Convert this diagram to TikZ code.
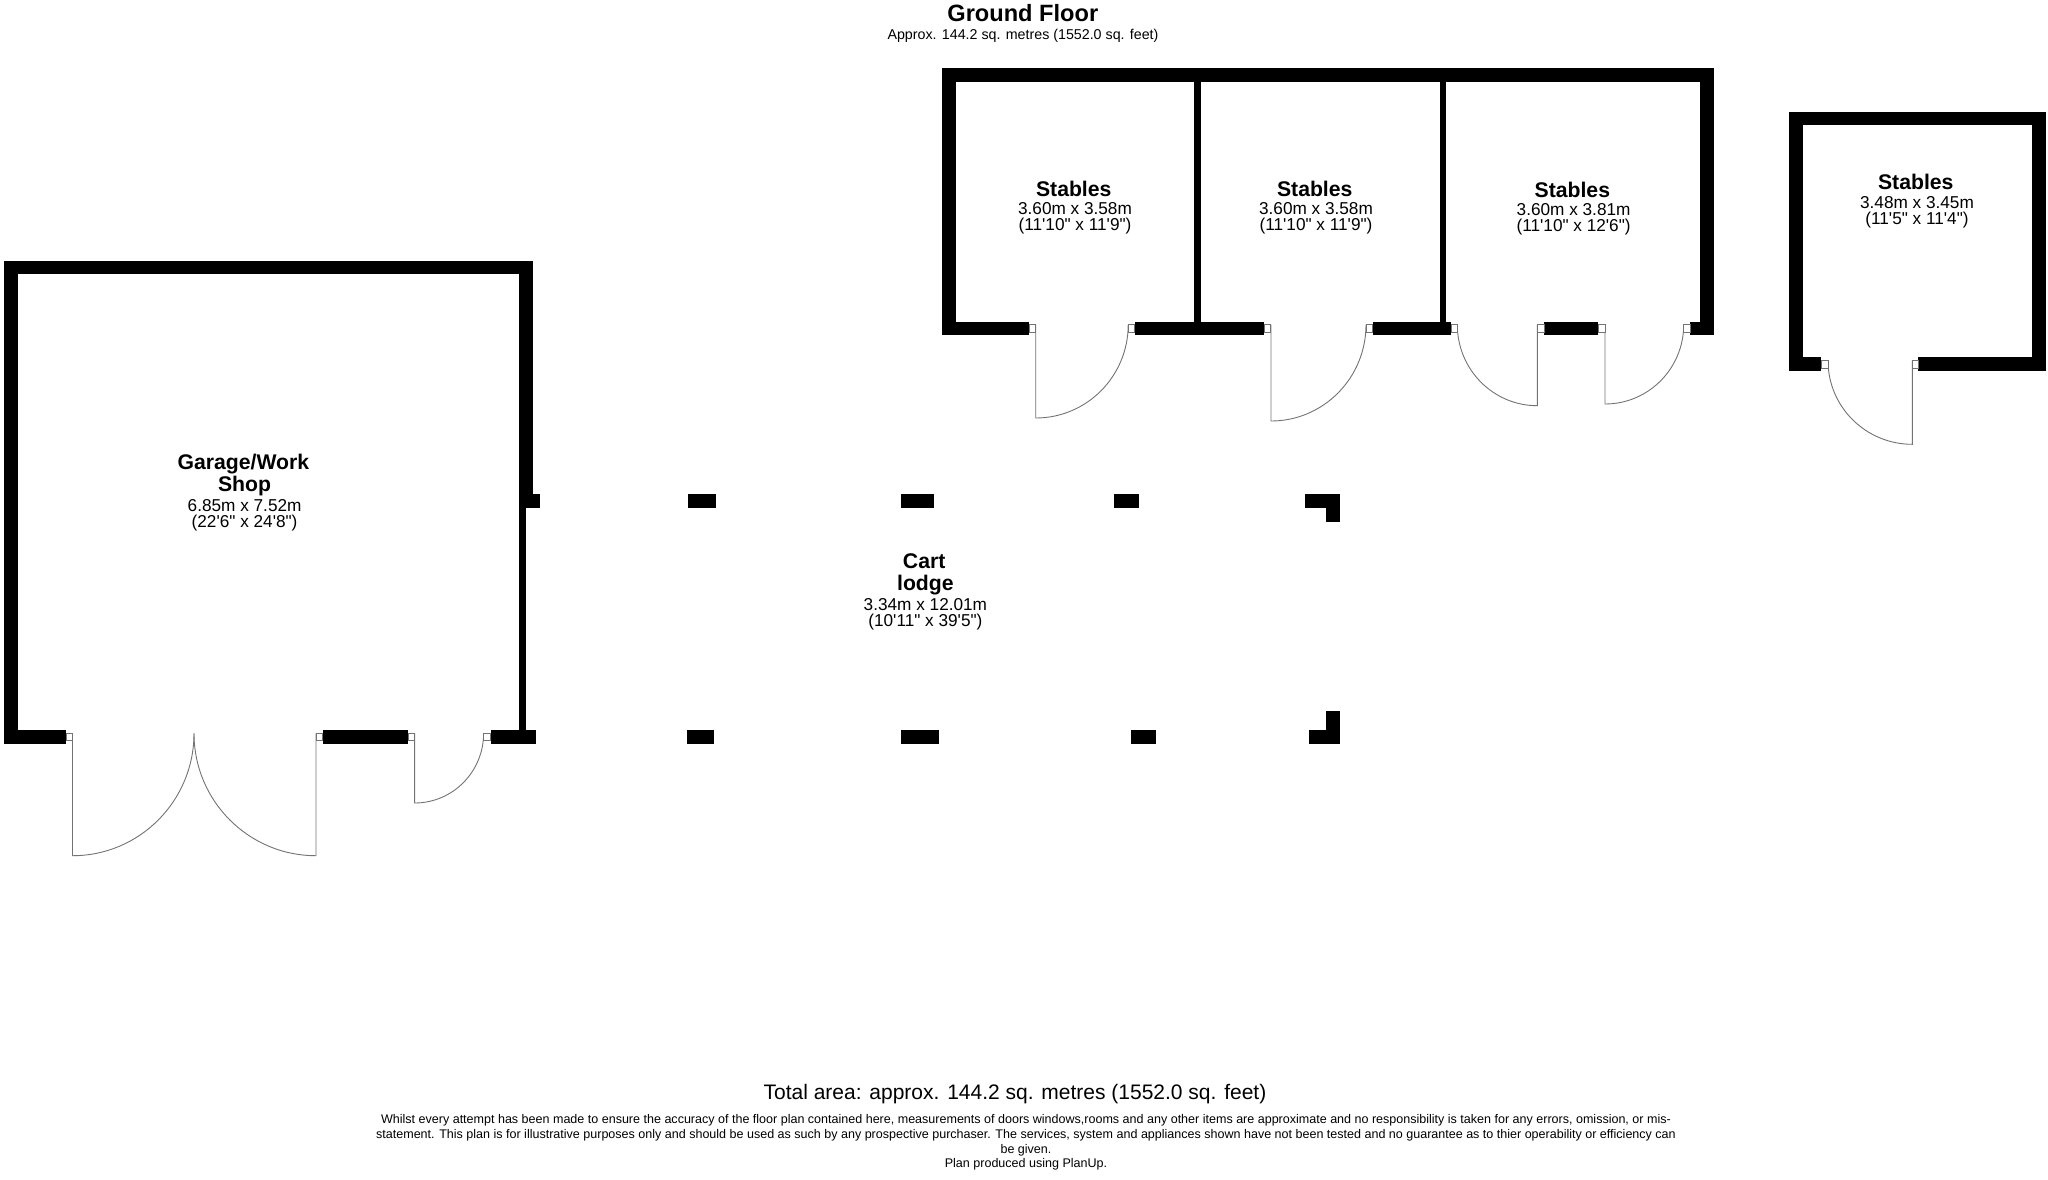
\documentclass[tikz,border=0pt]{standalone}
\usepackage{fontspec}
\newfontfamily\planfont{Liberation Sans}
\newcommand{\roomname}[1]{{\fontsize{21.2}{20}\selectfont\bfseries #1\hspace*{2.5pt}}}

\begin{document}
\begin{tikzpicture}[x=1pt, y=-1pt,
        wall/.style={fill=black},
        leaf/.style={draw=black!55, line width=0.9pt},
        jamb/.style={draw=black!55, line width=0.9pt, fill=white},
        roomlabel/.style={inner sep=0pt, align=center, font=\planfont\fontsize{17.2}{16}\selectfont},
        heading/.style={inner sep=0pt, font=\planfont\fontsize{23.6}{24}\selectfont\bfseries},
        smallprint/.style={inner sep=0pt, align=center, font=\planfont\fontsize{12.53}{14.6}\selectfont}
    ]
    \useasboundingbox (0,0) rectangle (2048,1179);
    \def\jambw{6.7}
    \def\jambh{7.4}

    % WALLS
    \foreach \xa/\ya/\xb/\yb in {
        4.3/260.7/532.5/274.3, 4.3/260.7/17.9/744, 4.3/730/66/744, 322.5/730/408/744,
        490.5/730/536.4/744, 518.6/260.7/532.5/494.3, 518.6/494.3/540/508, 518.6/508/526.4/730,
        942.2/68.3/1714/82.3, 942.2/68.3/955.5/335.3, 1700/68.3/1714/335.3,
        1194.3/68.3/1201/335.3, 1439.7/68.3/1446.3/335.3,
        942.2/321.7/1029/335.3, 1134.6/321.7/1264/335.3, 1372.9/321.7/1451/335.3,
        1544/321.7/1598.3/335.3, 1690/321.7/1714/335.3,
        1789/111.7/2045.7/125.3, 1789/111.7/1803/370.7, 2031.7/111.7/2045.7/370.7,
        1789/356.7/1821.3/370.7, 1918.3/356.7/2045.7/370.7} {
        \fill[wall] (\xa,\ya) rectangle (\xb,\yb);
    }

    % POSTS
    \foreach \xa/\xb in {688.2/715.6, 901/934, 1114.4/1138.5, 1305.3/1340.4} {
        \fill[wall] (\xa,494.3) rectangle (\xb,508.3);
    }
    \foreach \xa/\xb in {686.5/714, 901/938.8, 1131.4/1155.5, 1308.5/1340.4} {
        \fill[wall] (\xa,730) rectangle (\xb,744);
    }
    \fill[wall] (1325.6,494.3) rectangle (1340.4,522.3);
    \fill[wall] (1325.6,711) rectangle (1340.4,744);

    % DOORS
    \foreach \x/\ytop/\ybot/\xend in {
        72.5/733.3/855.7/194, 316/733.3/855.7/194, 414.6/733.3/803/483.6,
        1035.7/324.7/418/1128.2, 1271/324.7/421/1366,
        1537.3/324.7/405.7/1457.3, 1605/324.7/404/1683.7,
        1912.3/360.7/444.3/1828} {
        \draw[leaf] (\x,\ytop) -- (\x,\ybot)
            arc[start angle=90, end angle=0, x radius={\xend-\x}, y radius={\ybot-\ytop}];
    }
    \foreach \x/\y in {
        66/733.3, 316/733.3, 408/733.3, 483.6/733.3,
        1029/324.7, 1128.2/324.7, 1264/324.7, 1366/324.7,
        1451/324.7, 1537.3/324.7, 1598.3/324.7, 1683.7/324.7,
        1821.3/360.7, 1912/360.7} {
        \draw[jamb] (\x,\y) rectangle ++(\jambw,\jambh);
    }

    % LABELS
    \node[roomlabel] (garage) at (244.6,492.7) {\roomname{Garage/Work}\\[1.5pt]\roomname{Shop}\\[2.4pt]6.85m x 7.52m\\(22'6" x 24'8")};
    \node[roomlabel] (cart) at (925.4,592) {\roomname{Cart}\\[5.5pt]\roomname{lodge}\\[2.4pt]3.34m x 12.01m\\(10'11" x 39'5")};
    \node[roomlabel] (stablesa) at (1075,207.4) {\roomname{Stables}\\[2.4pt]3.60m x 3.58m\\(11'10" x 11'9")};
    \node[roomlabel] (stablesb) at (1316,207.4) {\roomname{Stables}\\[2.4pt]3.60m x 3.58m\\(11'10" x 11'9")};
    \node[roomlabel] (stablesc) at (1573.6,208.6) {\roomname{Stables}\\[2.4pt]3.60m x 3.81m\\(11'10" x 12'6")};
    \node[roomlabel] (stablesd) at (1917,201.1) {\roomname{Stables}\\[2.4pt]3.48m x 3.45m\\(11'5" x 11'4")};

    \node[heading] (floor) at (1022.8,13.5) {Ground Floor};
    \node[inner sep=0pt, font=\planfont\fontsize{14.25}{16}\selectfont] (floorarea) at (1023,35.9) {Approx. 144.2 sq. metres (1552.0 sq. feet)};
    \node[inner sep=0pt, font=\planfont\fontsize{21}{24}\selectfont] (total) at (1015,1094.3) {Total area: approx. 144.2 sq. metres (1552.0 sq. feet)};
    \node[smallprint] (disclaimer) at (1026,1142.6) {Whilst every attempt has been made to ensure the accuracy of the floor plan contained here, measurements of doors windows,rooms and any other items are approximate and no responsibility is taken for any errors, omission, or mis-\\
        statement. This plan is for illustrative purposes only and should be used as such by any prospective purchaser. The services, system and appliances shown have not been tested and no guarantee as to thier operability or efficiency can\\
        be given.\\
        Plan produced using PlanUp.};
\end{tikzpicture}
\end{document}
